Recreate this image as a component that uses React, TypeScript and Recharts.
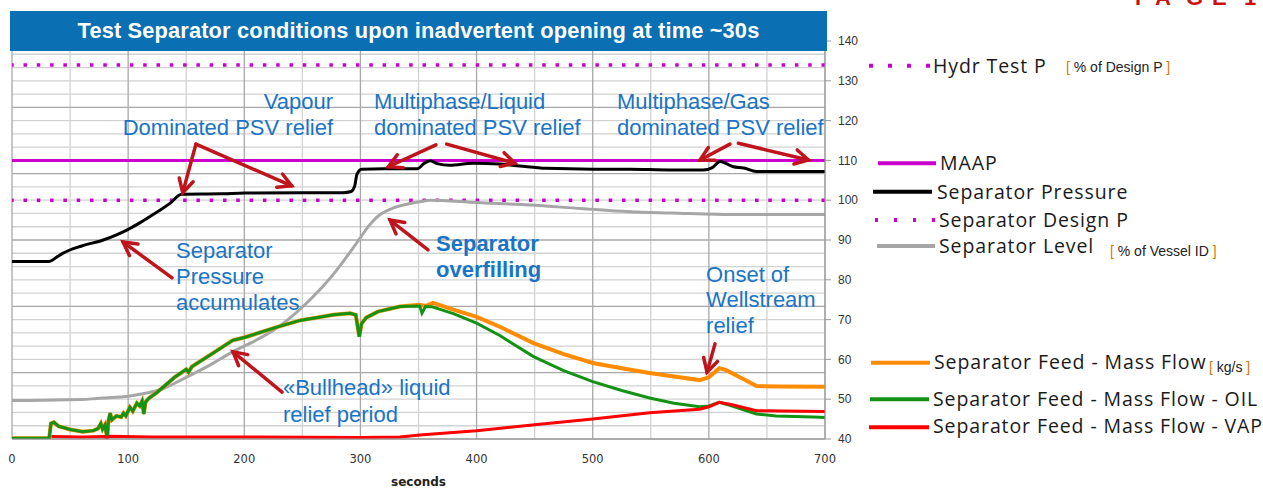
import { LineChart, Line, XAxis, YAxis, CartesianGrid, ReferenceLine, ReferenceDot } from 'recharts';

type Pt = [number, number];

// axes
const timeTicks = [0, 100, 200, 300, 400, 500, 600, 700];
const valueTicks = [40, 50, 60, 70, 80, 90, 100, 110, 120, 130, 140];
const gridMinorTime = [50, 150, 250, 350, 450, 550, 650];
const gridMajorTime = [0, 100, 200, 300, 400, 500, 600, 700];
// the grid follows a hidden secondary scale: 30 rows, every 5th darker
const gridMinorRows = [
  43.33, 46.67, 50, 53.33, 60, 63.33, 66.67, 70, 76.67, 80, 83.33, 86.67,
  93.33, 96.67, 100, 103.33, 110, 113.33, 116.67, 120, 126.67, 130, 133.33, 136.67
];
const gridMajorRows = [40, 56.67, 73.33, 90, 106.67, 123.33, 140];

// limits (% of design P)
const HYDR_TEST_P = 134;
const MAAP = 110;
const DESIGN_P = 100;

// [seconds, value]
const pressure: Pt[] = [
  [0, 84.6], [32, 84.6], [38, 85.6], [44, 86.7], [60, 88.5], [78.6, 90], [90, 91.3], [98.8, 92.5],
  [110, 94.3], [118.8, 95.9], [128, 97.6], [136, 99.2], [146, 101.5], [180, 101.6], [200, 101.8],
  [250, 101.9], [285, 101.9], [292, 102.2], [295, 103.5], [297, 106.5], [301, 107.8], [320, 107.9],
  [349, 107.9], [355, 109.3], [360, 109.9], [366, 109.2], [377, 108.8], [397, 109.3], [420, 109.1],
  [437, 108.6], [460, 108], [500, 107.8], [532, 107.8], [566, 107.6], [595, 107.6], [603, 108.2],
  [609.6, 109.7], [615, 109.2], [621, 108.4], [630, 108.1], [641, 107.2], [700, 107.2]
];

const level: Pt[] = [
  [0, 49.7], [15, 49.7], [60, 49.9], [73, 50.2], [101.6, 50.8], [115, 51.5], [127, 52.3], [150, 55.5],
  [170, 58.5], [190, 61.9], [210, 64.8], [228, 67.9], [248, 72.6], [265, 77.5], [277, 81.5], [290, 86.5],
  [300, 90.6], [307, 93.5], [314, 95.7], [328, 98], [340, 99], [351, 99.6], [360, 100], [400, 99.4],
  [446, 98.8], [490, 97.9], [532, 97.1], [567, 96.8], [624, 96.4], [700, 96.4]
];

const feedEarly: Pt[] = [
  [0, 40.2], [32, 40.2], [33.5, 43.9], [36, 44.2], [40, 43.2], [50, 42.4], [61, 41.8], [70, 42.1],
  [74, 42.6], [76.5, 43.9], [78, 42.5], [80, 43.5], [82, 40.2], [83, 44.5], [84.5, 46.5], [86, 44.8],
  [90, 45.8], [94, 45.5], [96, 46.5], [98, 45.8], [101.5, 48], [104, 47], [107.5, 49], [110, 48.3],
  [112, 49.5], [113.5, 46.3], [115, 49.3], [118, 50.3], [124, 51.5], [130, 53], [140, 55.5], [150, 57.5],
  [152, 56.8], [155, 58.2], [170, 61], [190, 64.8], [200, 65.5], [228, 68.1], [248, 69.8], [277, 71.2],
  [291, 71.6], [296, 71.2], [299, 65.7], [301, 69], [305, 70.5], [315, 72], [334, 73.3]
];

const feedTotal: Pt[] = [
  ...feedEarly,
  [351, 73.7], [356, 73.4], [362.5, 74.2], [380, 72.5], [400, 70.7], [420, 68.2], [449, 64.1],
  [475, 61.3], [500, 59.1], [525, 57.8], [549, 56.6], [570, 55.7], [592, 54.8], [600, 55.5],
  [609, 57.8], [615, 57.3], [630, 55], [641, 53.3], [660, 53.2], [700, 53.1]
];

const feedOil: Pt[] = [
  ...feedEarly,
  [351, 73.4], [353, 71.6], [356, 73.3], [362, 73.2], [380, 71.5], [400, 69.1], [420, 66], [449, 60.7],
  [475, 57.2], [500, 54.4], [525, 52.2], [549, 50.3], [570, 49], [592, 48.1], [600, 48.3], [609, 49.2],
  [620, 48.3], [641, 46.3], [658, 45.8], [690, 45.5], [700, 45.4]
];

const feedVap: Pt[] = [
  [34, 40.6], [60, 40.5], [80, 40.6], [82, 40.2], [84, 40.7], [120, 40.5], [200, 40.5], [300, 40.4],
  [334, 40.5], [351, 41], [400, 42.1], [450, 43.6], [500, 45], [549, 46.6], [592, 47.5], [600, 48.1],
  [609, 49.2], [620, 48.6], [641, 47.1], [700, 46.9]
];

// notes: anchor point of first baseline, in chart units
const notes = [
  { t: 276.4, v: 122.9, lines: ['Vapour', 'Dominated PSV relief'], anchor: 'end', bold: false, lh: 26 },
  { t: 311.7, v: 122.9, lines: ['Multiphase/Liquid', 'dominated PSV relief'], anchor: 'start', bold: false, lh: 26 },
  { t: 520.9, v: 122.9, lines: ['Multiphase/Gas', 'dominated PSV relief'], anchor: 'start', bold: false, lh: 26 },
  { t: 141.2, v: 85.4, lines: ['Separator', 'Pressure', 'accumulates'], anchor: 'start', bold: false, lh: 26 },
  { t: 365.1, v: 87.2, lines: ['Separator', 'overfilling'], anchor: 'start', bold: true, lh: 26 },
  { t: 597.6, v: 79.5, lines: ['Onset of', 'Wellstream', 'relief'], anchor: 'start', bold: false, lh: 25.7 },
  { t: 233.3, v: 51.1, lines: ['\u00abBullhead\u00bb liquid', 'relief period'], anchor: 'start', bold: false, lh: 27.5 }
];

// arrows: [tail, head]
const arrows: [Pt, Pt][] = [
  [[158.4, 114.1], [147, 101.9]],
  [[158.4, 114.1], [240.8, 103.6]],
  [[365, 113.9], [324, 108.4]],
  [[374.3, 114.1], [433, 109.3]],
  [[618.2, 114.1], [592.4, 110.1]],
  [[625.4, 114.3], [685.7, 110.1]],
  [[137.8, 80.5], [95.6, 89.5]],
  [[232.5, 51.8], [190.3, 61.9]],
  [[358.2, 87.5], [325.5, 95]],
  [[605.3, 63.9], [598.4, 56.8]]
];

const toRows = (pts: Pt[]) => pts.map(([t, v]) => ({ t, v }));

const NOTE_BLUE = '#1a74c6';
const ARROW_RED = '#c0141c';
const MAGENTA = '#cc00cc';

function ArrowShape(props: any) {
  const { x1, y1, x2, y2 } = props;
  const ang = Math.atan2(y2 - y1, x2 - x1);
  const len = 15;
  const spread = 0.5;
  const ax = x2 - len * Math.cos(ang - spread);
  const ay = y2 - len * Math.sin(ang - spread);
  const bx = x2 - len * Math.cos(ang + spread);
  const by = y2 - len * Math.sin(ang + spread);
  return (
    <g>
      <line x1={x1} y1={y1} x2={x2} y2={y2} stroke={ARROW_RED} strokeWidth={3.5} strokeLinecap="round" />
      <path d={`M${ax},${ay} L${x2},${y2} L${bx},${by}`} fill="none" stroke={ARROW_RED} strokeWidth={3.5} strokeLinecap="round" />
    </g>
  );
}

function NoteShape(props: any) {
  const { cx, cy, note } = props;
  return (
    <text
      x={cx}
      y={cy}
      textAnchor={note.anchor}
      fill={NOTE_BLUE}
      fontSize={22}
      fontWeight={note.bold ? 'bold' : 'normal'}
      fontFamily="Liberation Sans, Arial, sans-serif"
    >
      {note.lines.map((s: string, i: number) => (
        <tspan key={i} x={cx} dy={i === 0 ? 0 : note.lh}>{s}</tspan>
      ))}
    </text>
  );
}

const legendFont = { fontFamily: 'Open Sans, sans-serif', fontSize: 19.5, letterSpacing: 0.9, fill: '#1a1a1a' };
const unitFont = { fontFamily: 'Liberation Sans, Arial, sans-serif', fontSize: 14, fill: '#222' };

function Unit(props: { x: number; y: number; text: string }) {
  return (
    <text x={props.x} y={props.y} {...unitFont}>
      <tspan fill="#d07a10">[</tspan> {props.text} <tspan fill="#d07a10">]</tspan>
    </text>
  );
}

function Legend() {
  return (
    <svg width={1263} height={488} style={{ position: 'absolute', left: 0, top: 0, pointerEvents: 'none' }}>
      <text x="1135 1155 1186 1212 1244" y={5} fill="#cc1111" fontWeight="bold" fontSize={22} fontFamily="Liberation Sans, Arial, sans-serif">PAGE1</text>

      <line x1={869} x2={931} y1={65.7} y2={65.7} stroke={MAGENTA} strokeWidth={4} strokeDasharray="4 15" />
      <text x={933} y={72.7} {...legendFont}>Hydr Test P</text>
      <Unit x={1066} y={72} text="% of Design P" />

      <line x1={878} x2={936} y1={163.3} y2={163.3} stroke={MAGENTA} strokeWidth={4} />
      <text x={940} y={170} {...legendFont}>MAAP</text>

      <line x1={873} x2={932} y1={191.7} y2={191.7} stroke="#000" strokeWidth={4} />
      <text x={937} y={199} {...legendFont}>Separator Pressure</text>

      <line x1={875} x2={935} y1={220} y2={220} stroke={MAGENTA} strokeWidth={4} strokeDasharray="3 16" />
      <text x={939} y={226.5} {...legendFont}>Separator Design P</text>

      <line x1={877} x2={935} y1={246} y2={246} stroke="#a6a6a6" strokeWidth={4} />
      <text x={939} y={253} {...legendFont}>Separator Level</text>
      <Unit x={1110} y={256} text="% of Vessel ID" />

      <line x1={871} x2={930} y1={362.7} y2={362.7} stroke="#ff8c00" strokeWidth={4} />
      <text x={934} y={369.3} {...legendFont}>Separator Feed - Mass Flow</text>
      <Unit x={1209} y={371.7} text="kg/s" />

      <line x1={870} x2={929} y1={399.3} y2={399.3} stroke="#149214" strokeWidth={4} />
      <text x={933} y={405.7} {...legendFont}>Separator Feed - Mass Flow - OIL</text>

      <line x1={869} x2={929} y1={427.3} y2={427.3} stroke="#ff0000" strokeWidth={4} />
      <text x={933} y={433.3} {...legendFont}>Separator Feed - Mass Flow - VAP</text>
    </svg>
  );
}

export default function App() {
  return (
    <div style={{ position: 'absolute', left: 0, top: 0, width: 1263, height: 488, background: '#fff', overflow: 'hidden' }}>
      <LineChart width={1263} height={488} margin={{ top: 41, right: 398, bottom: 0, left: 12 }}>
        <XAxis
          dataKey="t"
          type="number"
          domain={[0, 700]}
          ticks={timeTicks}
          interval={0}
          allowDataOverflow
          height={49}
          tickLine={false}
          tickMargin={10}
          axisLine={{ stroke: '#999' }}
          tick={{ fill: '#333', fontSize: 11.5, fontFamily: 'DejaVu Sans, sans-serif' }}
          label={{ value: 'seconds', position: 'insideBottom', offset: 2, fill: '#222', fontSize: 12, fontWeight: 'bold', fontFamily: 'DejaVu Sans, sans-serif' }}
        />
        <YAxis
          yAxisId="p"
          orientation="right"
          domain={[40, 140]}
          ticks={valueTicks}
          interval={0}
          allowDataOverflow
          width={40}
          tickSize={6}
          tickMargin={7}
          axisLine={{ stroke: '#999' }}
          tickLine={{ stroke: '#999' }}
          tick={{ fill: '#333', fontSize: 12, fontFamily: 'Liberation Sans, Arial, sans-serif', textAnchor: 'start' }}
        />
        <CartesianGrid yAxisId="p" horizontalValues={gridMinorRows} verticalValues={gridMinorTime} stroke="#d2d2d2" strokeWidth={1.3} />
        <CartesianGrid yAxisId="p" horizontalValues={gridMajorRows} verticalValues={gridMajorTime} stroke="#a8a8a8" strokeWidth={1.3} />

        <ReferenceLine yAxisId="p" y={HYDR_TEST_P} stroke={MAGENTA} strokeWidth={3.5} strokeDasharray="3.5 9.8" />
        <ReferenceLine yAxisId="p" y={DESIGN_P} stroke={MAGENTA} strokeWidth={3.5} strokeDasharray="3.5 9.8" />
        <ReferenceLine yAxisId="p" y={MAAP} stroke={MAGENTA} strokeWidth={3} />

        <Line data={toRows(level)} dataKey="v" yAxisId="p" type="monotone" stroke="#a6a6a6" strokeWidth={3} dot={false} isAnimationActive={false} />
        <Line data={toRows(feedTotal)} dataKey="v" yAxisId="p" type="linear" stroke="#ff8c00" strokeWidth={4} dot={false} isAnimationActive={false} />
        <Line data={toRows(feedOil)} dataKey="v" yAxisId="p" type="linear" stroke="#149214" strokeWidth={3} dot={false} isAnimationActive={false} />
        <Line data={toRows(feedVap)} dataKey="v" yAxisId="p" type="linear" stroke="#ff0000" strokeWidth={3} dot={false} isAnimationActive={false} />
        <Line data={toRows(pressure)} dataKey="v" yAxisId="p" type="monotone" stroke="#000" strokeWidth={3} dot={false} isAnimationActive={false} />

        {arrows.map(([a, b], i) => (
          <ReferenceLine
            key={`arrow-${i}`}
            yAxisId="p"
            segment={[{ x: a[0], y: a[1] }, { x: b[0], y: b[1] }]}
            shape={(p: any) => <ArrowShape {...p} />}
          />
        ))}
        {notes.map((n, i) => (
          <ReferenceDot
            key={`note-${i}`}
            yAxisId="p"
            x={n.t}
            y={n.v}
            r={0}
            shape={(p: any) => <NoteShape {...p} note={n} />}
          />
        ))}
      </LineChart>

      <div
        style={{
          position: 'absolute', left: 10, top: 11, width: 817, height: 39.5, background: '#0a6fb3',
          color: '#fff', fontFamily: 'Liberation Sans, Arial, sans-serif', fontWeight: 'bold', fontSize: 21.8,
          letterSpacing: 0.15, display: 'flex', alignItems: 'center', justifyContent: 'center'
        }}
      >
        Test Separator conditions upon inadvertent opening at time ~30s
      </div>
      <Legend />
    </div>
  );
}
